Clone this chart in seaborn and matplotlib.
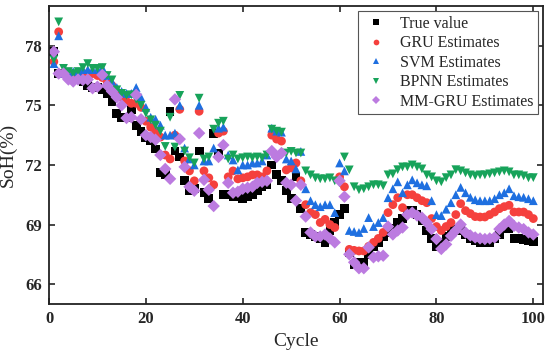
import pandas as pd
import matplotlib
matplotlib.use("Agg")
import matplotlib.pyplot as plt
import seaborn as sns

cycles = list(range(1, 101))

true_value = [
    77.7, 76.6, 76.6, 76.5, 76.5, 76.4, 76.2, 76.0, 75.9, 75.9,
    75.8, 75.6, 75.2, 74.6, 74.4, 74.4, 74.8, 74.0, 73.7, 73.4,
    73.2, 72.8, 71.6, 71.5, 74.7, 72.7, 72.4, 71.2, 70.7, 70.8,
    72.7, 70.6, 70.3, 73.6, 72.6, 70.5, 70.5, 70.4, 70.4, 70.3,
    70.4, 70.5, 70.7, 70.9, 71.0, 72.0, 71.5, 71.2, 70.7, 70.3,
    71.4, 69.8, 68.6, 68.5, 68.4, 68.3, 68.1, 68.7, 69.1, 69.5,
    69.8, 67.6, 67.0, 67.1, 67.1, 67.5, 67.9, 68.1, 68.4, 68.6,
    68.8, 69.1, 69.3, 69.7, 69.7, 69.5, 69.2, 68.7, 68.3, 67.9,
    68.1, 68.4, 68.7, 68.75, 68.7, 68.5, 68.3, 68.2, 68.1, 68.1,
    68.1, 68.3, 68.5, 68.8, 68.8, 68.3, 68.3, 68.25, 68.2, 68.15,
]

gru_est = [
    77.2, 78.7, 76.6, 76.6, 76.5, 76.5, 76.6, 76.6, 76.6, 76.5,
    76.4, 76.2, 76.0, 75.6, 75.4, 75.2, 75.1, 75.1, 74.9, 74.2,
    73.9, 73.7, 73.4, 72.5, 72.3, 73.5, 74.8, 72.2, 71.7, 71.2,
    74.7, 71.7, 71.35, 71.0, 73.6, 73.7, 71.4, 71.7, 71.3, 71.35,
    71.4, 71.5, 71.5, 71.4, 71.7, 73.5, 73.3, 73.2, 71.75, 71.85,
    72.1, 71.2, 70.0, 69.6, 69.5, 69.1, 69.26, 69.0, 68.85, 71.4,
    70.9, 67.75, 67.7, 67.67, 67.67, 67.9, 68.1, 68.3, 68.6, 69.6,
    70.0, 70.35, 69.85, 70.5, 70.5, 70.35, 70.2, 70.1, 69.3, 68.9,
    68.7, 68.9, 69.1, 69.5, 70.05, 69.7, 69.55, 69.4, 69.38, 69.38,
    69.5, 69.63, 69.8, 69.9, 69.97, 69.63, 69.63, 69.63, 69.5, 69.3,
]

svm_est = [
    77.1, 78.5, 76.6, 76.6, 76.7, 76.7, 76.8, 76.8, 76.8, 76.8,
    76.9, 76.5, 76.2, 75.9, 75.7, 75.6, 75.6, 75.9, 75.4, 74.9,
    74.4, 74.3, 74.0, 73.5, 73.5, 73.6, 75.0, 72.85, 72.3, 72.0,
    75.0, 72.2, 72.2, 72.85, 73.85, 73.9, 72.5, 72.25, 71.75, 72.0,
    72.0, 72.1, 72.1, 72.2, 72.5, 73.85, 73.7, 73.65, 72.3, 72.2,
    71.8, 72.68, 70.8, 70.2, 70.0, 69.9, 70.0, 70.0, 69.6, 72.1,
    71.7, 68.7, 68.65, 68.6, 68.8, 69.35, 68.9, 69.1, 69.35, 70.35,
    70.8, 71.15, 70.6, 71.0, 71.25, 71.1, 71.0, 70.95, 70.2, 69.5,
    69.45, 69.77, 70.1, 70.5, 70.87, 70.6, 70.37, 70.25, 70.2, 70.2,
    70.2, 70.3, 70.5, 70.6, 70.8, 70.45, 70.4, 70.37, 70.3, 70.2,
]

bpnn_est = [
    77.3, 79.2, 76.86, 76.7, 76.6, 76.7, 76.9, 77.1, 76.86, 76.86,
    76.9, 76.5, 76.28, 75.78, 75.6, 75.5, 75.53, 75.3, 75.0, 74.6,
    74.27, 74.0, 73.7, 72.93, 74.4, 72.9, 75.5, 72.7, 72.36, 72.1,
    75.36, 72.3, 72.4, 73.8, 74.1, 74.2, 72.3, 72.5, 72.3, 72.36,
    72.4, 72.36, 72.4, 72.36, 72.5, 73.8, 73.7, 73.65, 72.6, 72.68,
    72.6, 72.6, 71.7, 71.5, 71.35, 71.3, 71.3, 71.35, 71.2, 71.1,
    72.4, 71.75, 70.9, 70.75, 70.8, 70.9, 71.0, 71.0, 70.95, 71.5,
    71.55, 71.76, 71.9, 71.9, 72.0, 71.9, 71.8, 71.5, 71.4, 71.2,
    71.15, 71.36, 71.5, 71.76, 71.7, 71.6, 71.5, 71.45, 71.5, 71.5,
    71.55, 71.6, 71.65, 71.7, 71.65, 71.5, 71.5, 71.45, 71.35, 71.36,
]

mm_gru_est = [
    77.7, 76.6, 76.6, 76.3, 76.2, 76.3, 76.28, 76.3, 75.86, 75.94,
    76.53, 76.0, 75.7, 75.4, 75.0, 74.36, 74.4, 75.53, 74.3, 73.5,
    73.4, 73.27, 72.5, 71.8, 71.3, 75.3, 73.3, 71.9, 70.9, 70.7,
    73.6, 71.25, 70.75, 69.93, 72.4, 73.0, 71.1, 70.6, 70.65, 70.8,
    70.85, 70.9, 71.1, 71.15, 71.2, 72.7, 72.4, 72.6, 71.1, 71.0,
    70.2, 71.0, 69.4, 68.6, 68.4, 68.4, 68.5, 68.3, 68.1, 71.2,
    70.4, 67.5, 67.1, 66.8, 66.8, 67.85, 67.35, 67.4, 67.43, 68.9,
    68.5, 68.7, 68.85, 69.5, 69.6, 69.45, 69.35, 69.1, 68.77, 68.27,
    67.77, 68.0, 68.43, 68.7, 69.0, 68.6, 68.45, 68.35, 68.3, 68.27,
    68.3, 68.35, 68.77, 69.0, 69.18, 68.93, 68.85, 68.77, 68.6, 68.5,
]

series_names = ["True value", "GRU Estimates", "SVM Estimates",
                "BPNN Estimates", "MM-GRU Estimates"]
series_values = [true_value, gru_est, svm_est, bpnn_est, mm_gru_est]
colors = ["#000000", "#F5403D", "#1E6FE0", "#17A35A", "#BC7BE0"]
marker_styles = ["s", "o", "^", "v", "D"]
y_ticks = [66, 69, 72, 75, 78]
x_ticks = [0, 20, 40, 60, 80, 100]


def build_frame():
    frames = []
    for name, vals in zip(series_names, series_values):
        frames.append(pd.DataFrame({"Cycle": cycles, "SoH": vals, "Model": name}))
    return pd.concat(frames, ignore_index=True)


if __name__ == "__main__":
    sns.set_style("ticks")
    plt.rcParams["font.family"] = ["Liberation Serif", "DejaVu Serif"]

    data = build_frame()

    fig = plt.figure(figsize=(5.5, 3.63), dpi=100)
    ax = fig.add_axes([49 / 550, 1 - 304 / 363, (543 - 49) / 550, (304 - 6) / 363])

    sns.scatterplot(data=data, x="Cycle", y="SoH", hue="Model", style="Model",
                    hue_order=series_names, style_order=series_names,
                    palette=dict(zip(series_names, colors)),
                    markers=dict(zip(series_names, marker_styles)),
                    s=40, linewidth=0, ax=ax)

    ax.set_xlim(0, 102)
    ax.set_ylim(65, 80)
    ax.set_xticks(x_ticks)
    ax.set_yticks(y_ticks)
    ax.tick_params(direction="in", length=4, width=1.2, top=True, right=True,
                   labeltop=False, labelright=False, labelsize=12, pad=5)
    for lab in ax.get_xticklabels() + ax.get_yticklabels():
        lab.set_fontweight("bold")
    for sp in ax.spines.values():
        sp.set_linewidth(1.3)
        sp.set_color("#222222")

    ax.set_xlabel("Cycle", fontsize=14, labelpad=4)
    ax.set_ylabel("SoH(%)", fontsize=14, labelpad=6)

    handles, labels = ax.get_legend_handles_labels()
    leg = ax.legend(handles, labels, loc="upper right", fontsize=11.5,
                    frameon=True, fancybox=False, framealpha=1,
                    edgecolor="#555555", borderaxespad=0.3,
                    labelspacing=0.22, handletextpad=0.7, borderpad=0.3,
                    handlelength=1.6, markerscale=0.65)
    leg.get_frame().set_linewidth(0.8)

    fig.savefig("out.png", dpi=100)
